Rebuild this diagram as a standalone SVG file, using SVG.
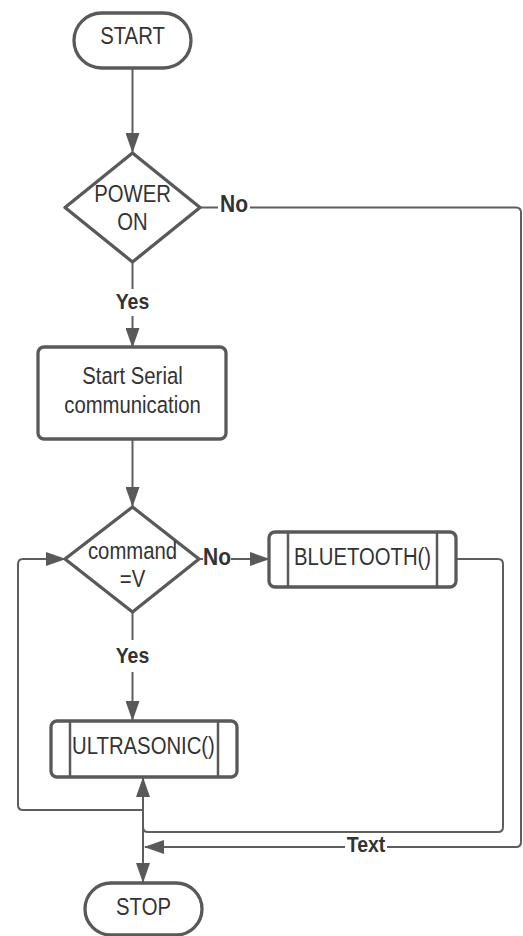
<svg xmlns="http://www.w3.org/2000/svg" width="523" height="936" viewBox="0 0 523 936">
<style>
.shape{fill:#fff;stroke:#595959;stroke-width:3.3;stroke-linejoin:round}
.inner{stroke:#595959;stroke-width:2.5;fill:none}
.conn{fill:none;stroke:#5e5e5e;stroke-width:2;stroke-linejoin:round}
.arr{marker-end:url(#ah)}
.t{font-family:"Liberation Sans",Arial,sans-serif;font-size:20.3px;fill:#333;text-anchor:middle}
.b{font-family:"Liberation Sans",Arial,sans-serif;font-size:19.5px;font-weight:bold;fill:#333;text-anchor:middle}
.n{font-size:21px}
</style>
<defs>
<marker id="ah" markerUnits="userSpaceOnUse" markerWidth="20" markerHeight="14" refX="19" refY="7" orient="auto" viewBox="0 0 20 14">
<path d="M0,0 L20,7 L0,14 Z" fill="#595959"/>
</marker>
</defs>
<rect width="523" height="936" fill="#fff"/>
<g id="connectors">
<path class="conn arr" d="M132.5,68 V152"/>
<path class="conn" d="M200,207.5 H218"/>
<path class="conn" d="M250,207.5 H516 Q521,207.5 521,212.5 V842 Q521,847 516,847 H387"/>
<path class="conn arr" d="M345,847 H145"/>
<path class="conn" d="M132.5,262 V289"/>
<path class="conn arr" d="M132.5,316 V347"/>
<path class="conn arr" d="M132.5,439 V506"/>
<path class="conn" d="M199,559 H203"/>
<path class="conn arr" d="M231,559 H269"/>
<path class="conn arr" d="M456,559 H498 Q503,559 503,564 V827 Q503,832 498,832 H148 Q143,832 143,827 V778"/>
<path class="conn" d="M132.5,612 V640"/>
<path class="conn arr" d="M132.5,672 V720"/>
<path class="conn arr" d="M143,810 H23 Q18,810 18,805 V564 Q18,559 23,559 H65"/>
<path class="conn arr" d="M143,810 V882"/>
<text class="b n" transform="translate(234,212) scale(1,1.16)">No</text>
<text class="b" transform="translate(132.5,309) scale(1,1.16)">Yes</text>
<text class="b n" transform="translate(217,565) scale(1,1.16)">No</text>
<text class="b" transform="translate(132.5,663) scale(1,1.16)">Yes</text>
<text class="b" transform="translate(366,852) scale(1,1.16)">Text</text>
</g>
<g id="start">
<rect class="shape" x="74" y="13" width="117" height="55" rx="27.5"/>
<text class="t" transform="translate(132.5,44) scale(1,1.16)">START</text>
</g>
<g id="power-on">
<polygon class="shape" points="132.5,153 200,207.5 132.5,262 65,207.5"/>
<text class="t" transform="translate(132.5,202) scale(1,1.16)">POWER</text>
<text class="t" transform="translate(132.5,230) scale(1,1.16)">ON</text>
</g>
<g id="start-serial">
<rect class="shape" x="38" y="347" width="188" height="92" rx="6"/>
<text class="t" transform="translate(132.5,384) scale(1,1.16)">Start Serial</text>
<text class="t" transform="translate(132.5,412.5) scale(1,1.16)">communication</text>
</g>
<g id="command">
<polygon class="shape" points="132.5,507 199,559 132.5,612 65,559"/>
<text class="t" transform="translate(132.5,559) scale(1,1.16)">command</text>
<text class="t" transform="translate(132.5,587) scale(1,1.16)">=V</text>
</g>
<g id="bluetooth">
<rect class="shape" x="269" y="532" width="187" height="55" rx="6"/>
<line class="inner" x1="288" y1="533" x2="288" y2="586"/>
<line class="inner" x1="437" y1="533" x2="437" y2="586"/>
<text class="t" transform="translate(362.5,565) scale(1,1.16)">BLUETOOTH()</text>
</g>
<g id="ultrasonic">
<rect class="shape" x="51" y="721" width="186" height="56" rx="6"/>
<line class="inner" x1="70" y1="722" x2="70" y2="776"/>
<line class="inner" x1="218" y1="722" x2="218" y2="776"/>
<text class="t" transform="translate(143.5,754) scale(1,1.16)">ULTRASONIC()</text>
</g>
<g id="stop">
<rect class="shape" x="85" y="883" width="117" height="52" rx="26"/>
<text class="t" transform="translate(143.5,915) scale(1,1.16)">STOP</text>
</g>
</svg>
